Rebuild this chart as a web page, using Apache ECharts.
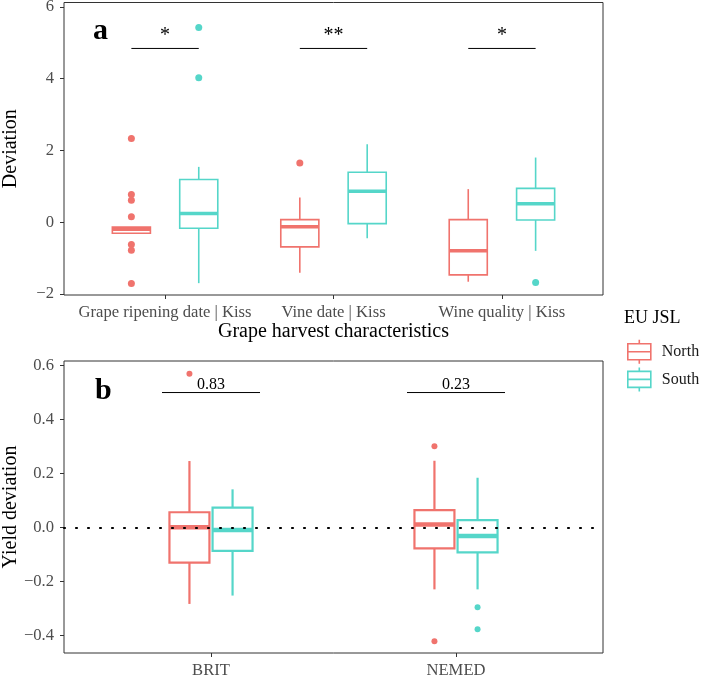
<!DOCTYPE html>
<html>
<head>
<meta charset="utf-8">
<script src="https://cdn.jsdelivr.net/npm/echarts@6/dist/echarts.min.js"></script>
<style>
html, body { margin: 0; padding: 0; background: #fff; }
#chart { width: 702px; height: 676px; }
</style>
</head>
<body>
<div id="chart"></div>
<script>
// panel a : grape harvest characteristics
var traitNames = ['Grape ripening date | Kiss', 'Vine date | Kiss', 'Wine quality | Kiss'];
// [low whisker, q1, median, q3, high whisker]
var northA = [[-0.31, -0.31, -0.20, -0.14, -0.14], [-1.41, -0.69, -0.13, 0.07, 0.69], [-1.66, -1.47, -0.80, 0.07, 0.92]];
var southA = [[-1.70, -0.17, 0.24, 1.19, 1.54], [-0.45, -0.04, 0.86, 1.39, 2.17], [-0.80, 0.06, 0.51, 0.94, 1.80]];
// [category index, value]
var northAOut = [[0, 2.33], [0, 0.77], [0, 0.61], [0, 0.15], [0, -0.62], [0, -0.78], [0, -1.71], [1, 1.65]];
var southAOut = [[0, 5.42], [0, 4.02], [2, -1.68]];
var sigA = ['*', '**', '*'];
var sigAY = 4.84;
var yTicksA = [-2, 0, 2, 4, 6];

// panel b : yield
var regionNames = ['BRIT', 'NEMED'];
var northB = [[-0.284, -0.131, 0.000, 0.056, 0.246], [-0.230, -0.078, 0.011, 0.064, 0.247]];
var southB = [[-0.253, -0.087, -0.010, 0.073, 0.141], [-0.230, -0.093, -0.032, 0.027, 0.184]];
var northBOut = [[0, 0.570], [1, 0.301], [1, -0.422]];
var southBOut = [[1, -0.296], [1, -0.378]];
var sigB = ['0.83', '0.23'];
var sigBY = 0.50;
var yTicksB = [-0.4, -0.2, 0, 0.2, 0.4, 0.6];

var NORTH = '#F0736D';
var SOUTH = '#55D6C9';
var FONT = 'Liberation Serif';

var chart = echarts.init(document.getElementById('chart'));

function minus(s) { return String(s).replace('-', '\u2212'); }

function boxSeries(name, color, rows, grid, offset, halfW, lw, mw) {
    return {
        name: name,
        type: 'custom',
        xAxisIndex: grid,
        yAxisIndex: grid,
        itemStyle: { color: color },
        encode: { x: 0, y: [1, 5] },
        data: rows.map(function (r, i) { return [i + 1].concat(r); }),
        renderItem: function (params, api) {
            var x = api.value(0) + offset;
            var low = api.coord([x, api.value(1)]);
            var q1 = api.coord([x, api.value(2)]);
            var med = api.coord([x, api.value(3)]);
            var q3 = api.coord([x, api.value(4)]);
            var high = api.coord([x, api.value(5)]);
            var left = api.coord([x - halfW, 0])[0];
            var right = api.coord([x + halfW, 0])[0];
            var st = { stroke: color, lineWidth: lw, fill: null };
            return {
                type: 'group',
                children: [
                    { type: 'line', shape: { x1: low[0], y1: low[1], x2: q1[0], y2: q1[1] }, style: st },
                    { type: 'line', shape: { x1: q3[0], y1: q3[1], x2: high[0], y2: high[1] }, style: st },
                    { type: 'rect', shape: { x: left, y: q3[1], width: right - left, height: q1[1] - q3[1] },
                      style: { stroke: color, lineWidth: lw, fill: '#fff' } },
                    { type: 'line', shape: { x1: left, y1: med[1], x2: right, y2: med[1] },
                      style: { stroke: color, lineWidth: mw } }
                ]
            };
        }
    };
}

function outlierSeries(name, color, pts, grid, offset, size) {
    return {
        name: name,
        type: 'scatter',
        xAxisIndex: grid,
        yAxisIndex: grid,
        symbolSize: size,
        itemStyle: { color: color, opacity: 1 },
        z: 3,
        data: pts.map(function (p) { return [p[0] + 1 + offset, p[1]]; })
    };
}

function sigSeries(labels, yv, grid, half, fontSize, gap) {
    return {
        type: 'custom',
        xAxisIndex: grid,
        yAxisIndex: grid,
        z: 4,
        data: labels.map(function (l, i) { return [i + 1, yv]; }),
        renderItem: function (params, api) {
            var a = api.coord([api.value(0) - half, api.value(1)]);
            var b = api.coord([api.value(0) + half, api.value(1)]);
            return {
                type: 'group',
                children: [
                    { type: 'line', shape: { x1: a[0], y1: a[1], x2: b[0], y2: b[1] },
                      style: { stroke: '#000', lineWidth: 1 } },
                    { type: 'text', style: { text: labels[params.dataIndex], x: (a[0] + b[0]) / 2, y: a[1] - gap,
                      align: 'center', verticalAlign: 'bottom', fontSize: fontSize, fontFamily: FONT, fill: '#000' } }
                ]
            };
        }
    };
}

function xAxis(grid, names, name) {
    var vals = names.map(function (n, i) { return i + 1; });
    return {
        type: 'value', gridIndex: grid, min: 0.4, max: names.length + 0.6,
        name: name, nameLocation: 'middle', nameGap: 27, nameMoveOverlap: false,
        nameTextStyle: { fontFamily: FONT, fontSize: 20, color: '#000' },
        axisLine: { show: false, onZero: false },
        splitLine: { show: false },
        axisTick: { show: true, customValues: vals, length: 4, lineStyle: { color: '#333' } },
        axisLabel: { customValues: vals, margin: 9, fontFamily: FONT, fontSize: 16.6, color: '#4D4D4D',
            formatter: function (v) { return names[Math.round(v) - 1]; } }
    };
}

function yAxis(grid, min, max, ticks, name, digits) {
    return {
        type: 'value', gridIndex: grid, min: min, max: max,
        name: name, nameLocation: 'middle', nameGap: 43, nameMoveOverlap: false,
        nameTextStyle: { fontFamily: FONT, fontSize: 20, color: '#000' },
        axisLine: { show: false, onZero: false },
        splitLine: { show: false },
        axisTick: { show: true, customValues: ticks, length: 4, lineStyle: { color: '#333' } },
        axisLabel: { customValues: ticks, margin: 10, fontFamily: FONT, fontSize: 16.6, color: '#4D4D4D',
            formatter: function (v) { return minus(v.toFixed(digits)); } }
    };
}

var boxIcon = 'path://M11.5,0 L11.5,4 M0,4 L23,4 L23,20 L0,20 Z M0,12 L23,12 M11.5,20 L11.5,24';

option = {
    animation: false,
    title: [
        { text: 'a', left: 93, top: 16, padding: 0, textStyle: { fontFamily: FONT, fontSize: 30, fontWeight: 'bold', color: '#000' } },
        { text: 'b', left: 95, top: 376, padding: 0, textStyle: { fontFamily: FONT, fontSize: 30, fontWeight: 'bold', color: '#000' } },
        { text: 'EU JSL', left: 624, top: 309, padding: 0, textStyle: { fontFamily: FONT, fontSize: 18, fontWeight: 'normal', color: '#000' } }
    ],
    legend: {
        orient: 'vertical', left: 627, top: 339, itemWidth: 23, itemHeight: 24, itemGap: 2, padding: 0,
        selectedMode: false,
        textStyle: { fontFamily: FONT, fontSize: 16, color: '#1A1A1A', padding: [0, 0, 0, 6] },
        data: [
            { name: 'North', icon: boxIcon, itemStyle: { color: 'rgba(0,0,0,0)', borderColor: NORTH, borderWidth: 1.6 } },
            { name: 'South', icon: boxIcon, itemStyle: { color: 'rgba(0,0,0,0)', borderColor: SOUTH, borderWidth: 1.6 } }
        ]
    },
    grid: [
        { left: 64, top: 2.5, width: 539, height: 292.5, outerBoundsMode: 'none', show: true, borderColor: '#333', borderWidth: 1, backgroundColor: '#fff' },
        { left: 64, top: 361, width: 539, height: 292, outerBoundsMode: 'none', show: true, borderColor: '#333', borderWidth: 1, backgroundColor: '#fff' }
    ],
    xAxis: [xAxis(0, traitNames, 'Grape harvest characteristics'), xAxis(1, regionNames, '')],
    yAxis: [yAxis(0, -2.03, 6.12, yTicksA, 'Deviation', 0), yAxis(1, -0.466, 0.617, yTicksB, 'Yield deviation', 1)],
    series: [
        boxSeries('North', NORTH, northA, 0, -0.2, 0.113, 1.6, 3.5),
        boxSeries('South', SOUTH, southA, 0, 0.2, 0.113, 1.6, 3.5),
        outlierSeries('North', NORTH, northAOut, 0, -0.2, 7),
        outlierSeries('South', SOUTH, southAOut, 0, 0.2, 7),
        sigSeries(sigA, sigAY, 0, 0.2, 20, 3),
        boxSeries('North', NORTH, northB, 1, -0.088, 0.0816, 2.2, 4.5),
        boxSeries('South', SOUTH, southB, 1, 0.088, 0.0816, 2.2, 4.5),
        outlierSeries('North', NORTH, northBOut, 1, -0.088, 6),
        outlierSeries('South', SOUTH, southBOut, 1, 0.088, 6),
        sigSeries(sigB, sigBY, 1, 0.2, 16, 0),
        {
            type: 'custom', xAxisIndex: 1, yAxisIndex: 1, z: 5, data: [],
            renderItem: function () { return null; },
            markLine: {
                silent: true, symbol: 'none', label: { show: false },
                lineStyle: { color: '#000', width: 2.2, type: [1, 11], cap: 'round' },
                data: [{ yAxis: 0 }]
            }
        }
    ]
};
chart.setOption(option);
</script>
</body>
</html>
